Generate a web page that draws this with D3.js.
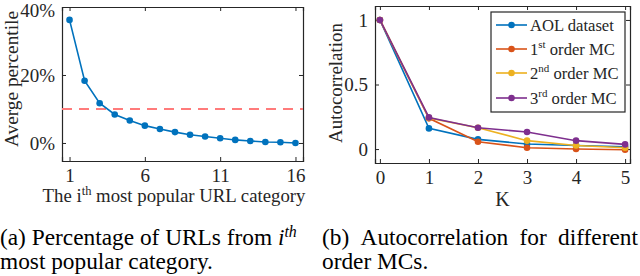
<!DOCTYPE html>
<html><head><meta charset="utf-8">
<script src="https://cdn.jsdelivr.net/npm/d3@7"></script>
<style>body{margin:0;background:#fff}svg{display:block}</style>
</head><body><svg id="c" width="640" height="276" style='font-family:"Liberation Serif"'></svg>
<script>
// Left panel data
const ranks = d3.range(1, 17);
const avgPct = [36.2, 18.3, 11.7, 8.4, 6.6, 5.1, 4.1, 3.2, 2.4, 1.9, 1.4, 0.9, 0.6, 0.3, 0.2, 0.0];
const thresholdPct = 10;
const leftXTicks = [1, 6, 11, 16];
const leftYTicks = [0, 20, 40];
// Right panel data
const lags = [0, 1, 2, 3, 4, 5];
const seriesNames = ["AOL dataset", "1st order MC", "2nd order MC", "3rd order MC"];
const aol = [1, 0.16, 0.075, 0.039, 0.028, 0.018];
const mc1 = [1, 0.238, 0.057, 0.01, 0.0, -0.005];
const mc2 = [1, 0.24, 0.165, 0.065, 0.028, 0.01];
const mc3 = [1, 0.245, 0.165, 0.132, 0.065, 0.036];
const rightXTicks = [0, 1, 2, 3, 4, 5];
const rightYTicks = [0, 0.5, 1];

const FONT = '"Liberation Serif"';
const svg = d3.select("#c").style("font-family", FONT);
const axisCol = "#262626";
const TFS = 19;

function txt(parent) {
  return parent.append("text").style("font-family", FONT).attr("fill", axisCol);
}
// scale font so that text width matches the width measured on the reference
function fit(t, target) {
  const fs = +t.attr("font-size");
  const w = t.node().getComputedTextLength();
  const nf = fs * target / w;
  t.attr("font-size", nf);
  t.selectAll("tspan").each(function () {
    const s = d3.select(this);
    if (s.attr("font-size")) s.attr("font-size", +s.attr("font-size") * nf / fs);
  });
  return nf;
}

function boxAxes(g, x, y, xt, yt, xfmt, yfmt) {
  const [x0, x1] = x.range(), [y0, y1] = y.range();
  g.append("g").attr("transform", `translate(0,${y0})`).call(d3.axisBottom(x).tickValues(xt).tickSize(-4).tickPadding(8).tickFormat(xfmt));
  g.append("g").attr("transform", `translate(0,${y1})`).call(d3.axisTop(x).tickValues(xt).tickSize(-4).tickFormat(""));
  g.append("g").attr("class", "yax").attr("transform", `translate(${x0},0)`).call(d3.axisLeft(y).tickValues(yt).tickSize(-4).tickPadding(7).tickFormat(yfmt));
  g.append("g").attr("transform", `translate(${x1},0)`).call(d3.axisRight(y).tickValues(yt).tickSize(-4).tickFormat(""));
  g.selectAll("g").attr("font-family", null);
  g.selectAll(".domain").attr("stroke", axisCol).attr("stroke-width", 1.2);
  g.selectAll(".tick line").attr("stroke", axisCol);
  g.selectAll(".tick text").style("font-family", FONT).attr("font-size", TFS).attr("fill", axisCol);
}

// Left panel
const xL = d3.scaleLinear().domain([0.5, 16.5]).range([62, 303]);
const yL = d3.scaleLinear().domain([-5.3, 40]).range([161, 7]);
const gL = svg.append("g");
boxAxes(gL, xL, yL, leftXTicks, leftYTicks, d3.format("d"), d => d + "%");
gL.selectAll(".yax .tick text").filter(d => d === 40).attr("dy", "0.5em");
gL.append("line").attr("x1", xL.range()[0]).attr("x2", xL.range()[1])
  .attr("y1", yL(thresholdPct)).attr("y2", yL(thresholdPct))
  .attr("stroke", "#ff7b7b").attr("stroke-width", 2).attr("stroke-dasharray", "10,7");
const lineL = d3.line().x((d, i) => xL(ranks[i])).y(d => yL(d));
gL.append("path").datum(avgPct).attr("d", lineL).attr("fill", "none").attr("stroke", "#0072BD").attr("stroke-width", 1.6);
gL.selectAll("circle.p").data(avgPct).join("circle").attr("cx", (d, i) => xL(ranks[i])).attr("cy", d => yL(d)).attr("r", 3.3).attr("fill", "#0072BD");
const ylabL = txt(gL).attr("transform", "translate(18,79) rotate(-90)").attr("text-anchor", "middle").attr("font-size", 18).text("Averge percentile");
fit(ylabL, 136);
const xlab = txt(gL).attr("x", 174).attr("y", 202).attr("text-anchor", "middle").attr("font-size", 18);
xlab.append("tspan").text("The i");
xlab.append("tspan").attr("font-size", 12).attr("dy", -7).text("th");
xlab.append("tspan").attr("dy", 7).text(" most popular URL category");
fit(xlab, 263);

// Right panel
const xR = d3.scaleLinear().domain([-0.1, 5.1]).range([375, 630]);
const yR = d3.scaleLinear().domain([-0.108, 1.108]).range([163, 6]);
const gR = svg.append("g");
boxAxes(gR, xR, yR, rightXTicks, rightYTicks, d3.format("d"), d => d === 0.5 ? "0.5" : d3.format("d")(d));
const colors = ["#0072BD", "#D95319", "#EDB120", "#7E2F8E"];
const allSeries = [aol, mc1, mc2, mc3];
const lineR = d3.line().x((d, i) => xR(lags[i])).y(d => yR(d));
allSeries.forEach((s, k) => {
  gR.append("path").datum(s).attr("d", lineR).attr("fill", "none").attr("stroke", colors[k]).attr("stroke-width", 1.6);
  gR.selectAll("circle.s" + k).data(s).join("circle").attr("cx", (d, i) => xR(lags[i])).attr("cy", d => yR(d)).attr("r", 3.3).attr("fill", colors[k]);
});
const ylabR = txt(gR).attr("transform", "translate(342,83) rotate(-90)").attr("text-anchor", "middle").attr("font-size", 18).text("Autocorrelation");
fit(ylabR, 120);
txt(gR).attr("x", xR(2.5)).attr("y", 206).attr("text-anchor", "middle").attr("font-size", 20).text("K");

// Legend
const lg = gR.append("g");
lg.append("rect").attr("x", 491).attr("y", 12).attr("width", 134).attr("height", 100).attr("fill", "#fff").attr("stroke", axisCol).attr("stroke-width", 1.2);
const legY = [25, 49, 73, 98];
let legFS = 18;
seriesNames.forEach((name, k) => {
  const yy = legY[k];
  lg.append("line").attr("x1", 496).attr("x2", 527).attr("y1", yy).attr("y2", yy).attr("stroke", colors[k]).attr("stroke-width", 1.6);
  lg.append("circle").attr("cx", 511.5).attr("cy", yy).attr("r", 3.3).attr("fill", colors[k]);
  const t = txt(lg).attr("x", 530).attr("y", yy + 6).attr("font-size", legFS);
  const m = name.match(/^(\d)(st|nd|rd)(.*)$/);
  if (m) {
    t.append("tspan").text(m[1]);
    t.append("tspan").attr("font-size", legFS * 0.66).attr("dy", -7).text(m[2]);
    t.append("tspan").attr("dy", 7).text(m[3]);
  } else { t.text(name); legFS = fit(t, 84); }
});

// Captions
const c2 = txt(svg).attr("x", 0).attr("y", 268.5).attr("font-size", 22).attr("fill", "#000").text("most popular category.");
const CF = fit(c2, 213);
const c1 = txt(svg).attr("x", 0).attr("y", 244.5).attr("font-size", CF).attr("fill", "#000");
c1.append("tspan").text("(a) Percentage of URLs from ");
c1.append("tspan").attr("font-style", "italic").text("i");
c1.append("tspan").attr("font-style", "italic").attr("font-size", CF * 0.68).attr("dy", -8).text("th");
// justified line for (b)
const words = ["(b)", "Autocorrelation", "for", "different"];
const wEls = words.map(w => txt(svg).attr("y", 244.5).attr("font-size", CF).attr("fill", "#000").text(w));
const widths = wEls.map(e => e.node().getComputedTextLength());
const gap = (638 - 322 - d3.sum(widths)) / (words.length - 1);
let cx = 322;
wEls.forEach((e, i) => { e.attr("x", cx); cx += widths[i] + gap; });
txt(svg).attr("x", 322).attr("y", 268.5).attr("font-size", CF).attr("fill", "#000").text("order MCs.");
</script></body></html>
